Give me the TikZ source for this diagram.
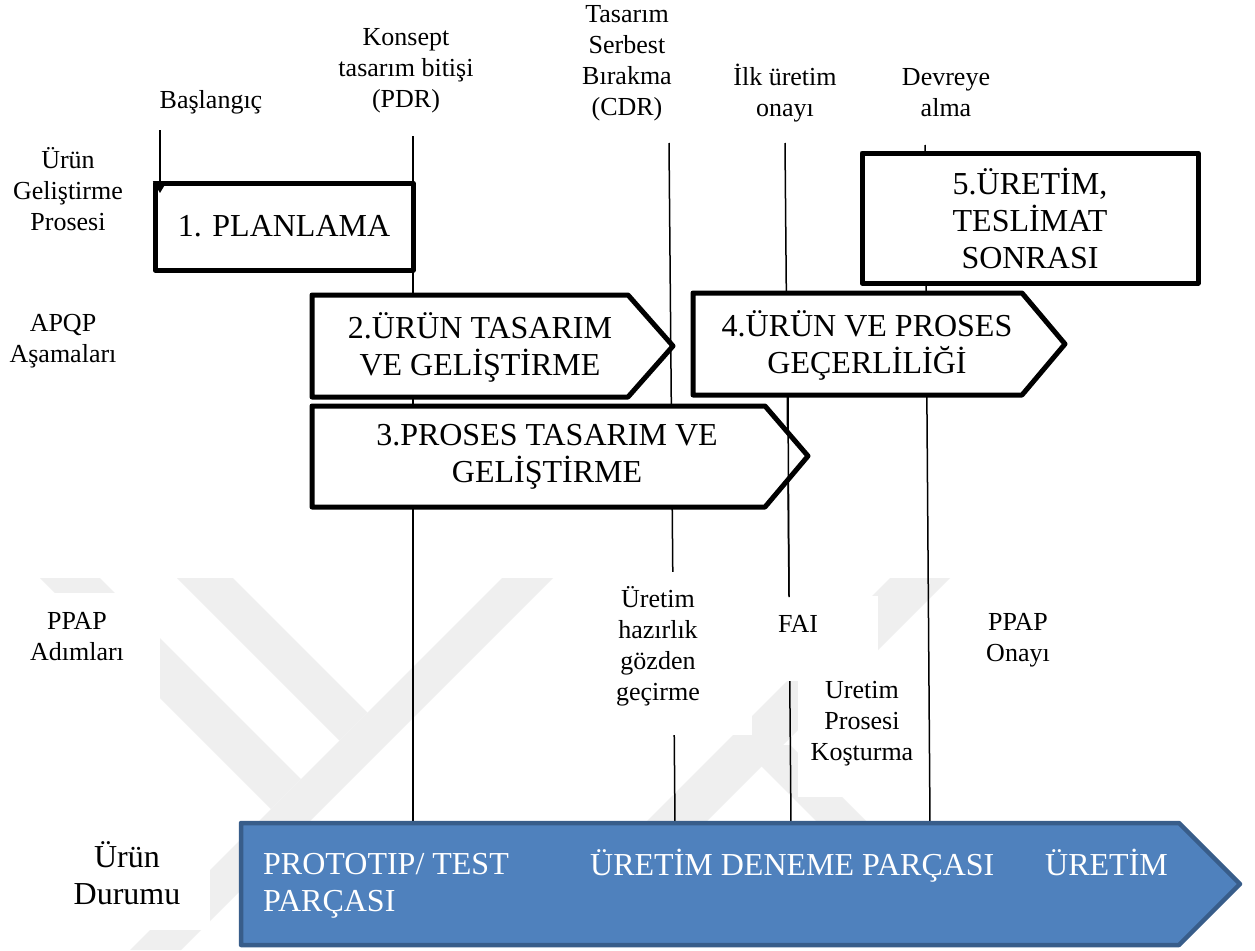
\documentclass[tikz,border=0pt]{standalone}
\usepackage{fontspec}
\setmainfont{Liberation Serif}
\usetikzlibrary{arrows.meta}

\definecolor{wmgray}{HTML}{EFEFEF}
\definecolor{statfill}{HTML}{4F81BD}
\definecolor{statline}{HTML}{385D8A}

\tikzset{
  lbl/.style={font=\fontsize{26}{31}\selectfont, align=center, inner sep=0pt},
  rowbig/.style={font=\fontsize{32}{37}\selectfont, align=center, inner sep=0pt},
  phase/.style={draw=black, line width=5pt, fill=white, line join=round},
  phasetxt/.style={font=\fontsize{32}{37}\selectfont, align=center, inner sep=0pt},
  gate/.style={draw=black, line width=1.5pt},
  wm/.style={fill=wmgray},
  mask/.style={fill=white},
  stattxt/.style={font=\fontsize{32}{37}\selectfont, text=white, inner sep=0pt, align=left},
}

\begin{document}
\begin{tikzpicture}[x=1pt,y=-1pt]
\useasboundingbox (0,0) rectangle (1255,950);
\fill[white] (0,0) rectangle (1255,950);

% faint background emblem
\fill[wm] (502,578) -- (553,578) -- (181,950) -- (130,950) -- cycle;
\fill[wm] (177,578) -- (233,578) -- (367.5,712.5) -- (339.5,740.5) -- cycle;
\fill[wm] (40,578) -- (100,578) -- (301,779) -- (271,809) -- cycle;
\fill[wm] (890,578) -- (950,578) -- (706,822) -- (646,822) -- cycle;
\fill[wm] (740,745) -- (790,745) -- (867,822) -- (817,822) -- cycle;

% gate lines (end points)
\coordinate (startA) at (160,130);
\coordinate (startB) at (160,193);
\coordinate (pdrA) at (413,136);
\coordinate (pdrB) at (413,823);
\coordinate (cdrA) at (669,143);
\coordinate (cdrB) at (675,823);
\coordinate (firstA) at (785,143);
\coordinate (firstB) at (791,823);
\coordinate (firstC) at (788,395);
\coordinate (firstD) at (789,597);
\coordinate (launchA) at (925,145);
\coordinate (launchB) at (930,823);

\draw[gate] (pdrA) -- (pdrB);
\draw[gate] (cdrA) -- (cdrB);
\draw[gate] (firstA) -- (firstB);
\draw[gate] (launchA) -- (launchB);

% white patches behind the PPAP step labels
\fill[mask] (0,593) rectangle (160,720);
\fill[mask] (0,815) rectangle (210,930);
\fill[mask] (568,572) rectangle (752,735);
\fill[mask] (752,596) rectangle (878,681);
\fill[mask] (798,681) rectangle (925,797);

% row titles
\node[lbl] (rowdev) at (68,189) {Ürün\\Geliştirme\\Prosesi};
\node[lbl] (rowapqp) at (63,341) {APQP\\Aşamaları};
\node[lbl] (rowppap) at (77,637) {PPAP\\Adımları};
\node[rowbig] (rowstate) at (127,873) {Ürün\\Durumu};

% milestones
\node[lbl] (mstart) at (211,102) {Başlangıç};
\node[lbl] (mpdr) at (406,71) {Konsept\\tasarım bitişi\\(PDR)};
\node[lbl] (mcdr) at (627,63) {Tasarım\\Serbest\\Bırakma\\(CDR)};
\node[lbl] (mfirst) at (785,93) {İlk üretim\\onayı};
\node[lbl] (mlaunch) at (946,93) {Devreye\\alma};

% PPAP steps
\node[lbl] (pprep) at (658,646) {Üretim\\hazırlık\\gözden\\geçirme};
\node[lbl] (pfai) at (798,624) {FAI};
\node[lbl] (prun) at (862,724) {Uretim\\Prosesi\\Koşturma};
\node[lbl] (papp) at (1018,640) {PPAP\\Onayı};

% APQP phases
\node[phase, phasetxt, minimum width=258pt, minimum height=87pt] (b1) at (284,226.5) {1. PLANLAMA};
\draw[phase] (312,295) -- (628,295) -- (673,346) -- (628,397) -- (312,397) -- cycle;
\node[phasetxt] (t2) at (480,347) {2.ÜRÜN TASARIM\\VE GELİŞTİRME};
\draw[phase] (312,406) -- (765,406) -- (808,456) -- (765,507) -- (312,507) -- cycle;
\node[phasetxt] (t3) at (547,457) {3.PROSES TASARIM VE\\GELİŞTİRME};
\draw[phase] (693,293) -- (1022,293) -- (1065,344) -- (1022,395) -- (693,395) -- cycle;
\node[phasetxt] (t4) at (867,345) {4.ÜRÜN VE PROSES\\GEÇERLİLİĞİ};
\node[phase, phasetxt, minimum width=336pt, minimum height=130pt] (b5) at (1030,218) {5.ÜRETİM,\\TESLİMAT\\SONRASI};

% segment crossing the tip of phase 3
\draw[gate] (firstC) -- (firstD);

% start marker
\draw[gate, -{Triangle[width=14pt, length=12pt]}] (startA) -- (startB);

% product status arrow
\draw[fill=statfill, draw=statline, line width=4.5pt, line join=round]
  (241,823) -- (1179,823) -- (1240,884) -- (1179,945) -- (241,945) -- cycle;
\node[stattxt, anchor=west] (sproto) at (263,886) {PROTOTIP/ TEST\\PARÇASI};
\node[stattxt, anchor=base west] (strial) at (590,875) {ÜRETİM DENEME PARÇASI};
\node[stattxt, anchor=base west] (sprod) at (1045,875) {ÜRETİM};
\end{tikzpicture}
\end{document}
